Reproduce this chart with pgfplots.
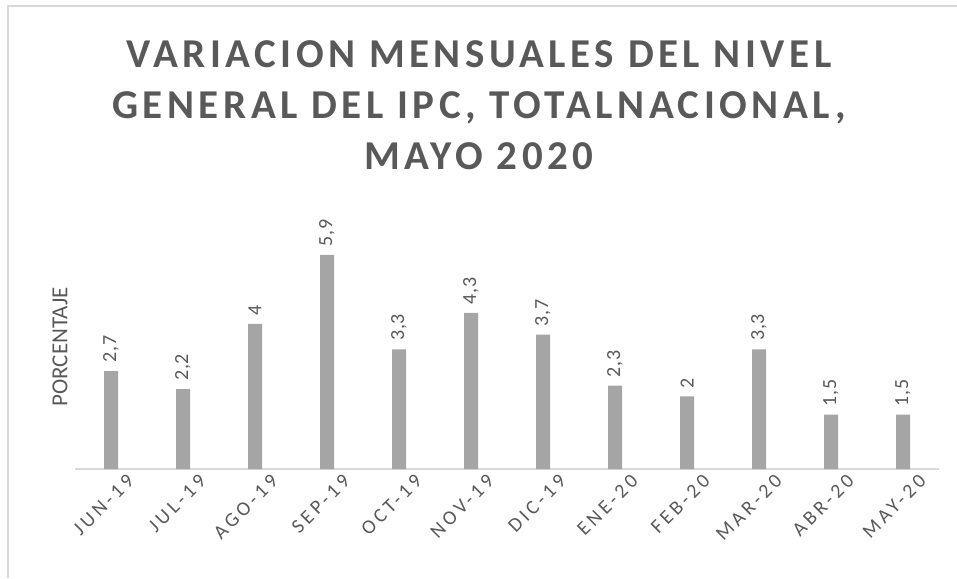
\documentclass[border=0pt]{standalone}
\usepackage{pgfplots}
\pgfplotsset{compat=1.18}
\usepackage{fontspec}
\setmainfont{Carlito}
\newfontfamily\titlefont[LetterSpace=11]{Carlito}
\newfontfamily\tickfont[LetterSpace=18]{Carlito}
\newfontfamily\valfont[LetterSpace=4]{Carlito}
\definecolor{txtgray}{HTML}{595959}
\definecolor{bargray}{HTML}{A5A5A5}
\definecolor{linegray}{HTML}{D9D9D9}
\begin{document}
\begin{tikzpicture}
\path[use as bounding box] (0,0) rectangle (478.5pt,289pt);
\draw[linegray,line width=1pt] (4pt,0) -- (4pt,286pt) -- (478.5pt,286pt);
\node[anchor=north,align=center,text=txtgray,font=\titlefont\bfseries\fontsize{20.5}{25.5}\selectfont]
  at (239.5pt,272pt) {VARIACION MENSUALES DEL NIVEL\\GENERAL DEL IPC, TOTALNACIONAL,\\MAYO 2020};
\node[rotate=90,text=txtgray,font=\fontsize{11.5}{13}\selectfont] at (30pt,115.5pt) {PORCENTAJE};
\begin{axis}[
  at={(37.5pt,54.5pt)},anchor=south west,
  width=432pt,height=127pt,scale only axis,
  ybar,bar width=7pt,
  xmin=-0.5,xmax=11.5,ymin=0,ymax=7,
  axis y line=none,
  axis x line*=bottom,
  x axis line style={draw=linegray,line width=1pt,-},
  xtick={0,...,11},
  xticklabels={JUN-19,JUL-19,AGO-19,SEP-19,OCT-19,NOV-19,DIC-19,ENE-20,FEB-20,MAR-20,ABR-20,MAY-20},
  xtick style={draw=none},
  xticklabel style={rotate=45,anchor=east,text=txtgray,font=\tickfont\fontsize{10}{11}\selectfont,xshift=8pt,yshift=-7pt,inner sep=1pt},
  nodes near coords,
  /pgf/number format/use comma,
  /pgf/number format/assume math mode=true,
  every node near coord/.append style={rotate=90,anchor=west,text=txtgray,font=\valfont\fontsize{10}{12}\selectfont,inner sep=4pt},
  clip=false,
]
\addplot[fill=bargray,draw=none] coordinates {
  (0,2.7) (1,2.2) (2,4) (3,5.9) (4,3.3) (5,4.3)
  (6,3.7) (7,2.3) (8,2) (9,3.3) (10,1.5) (11,1.5)};
\end{axis}
\end{tikzpicture}
\end{document}
